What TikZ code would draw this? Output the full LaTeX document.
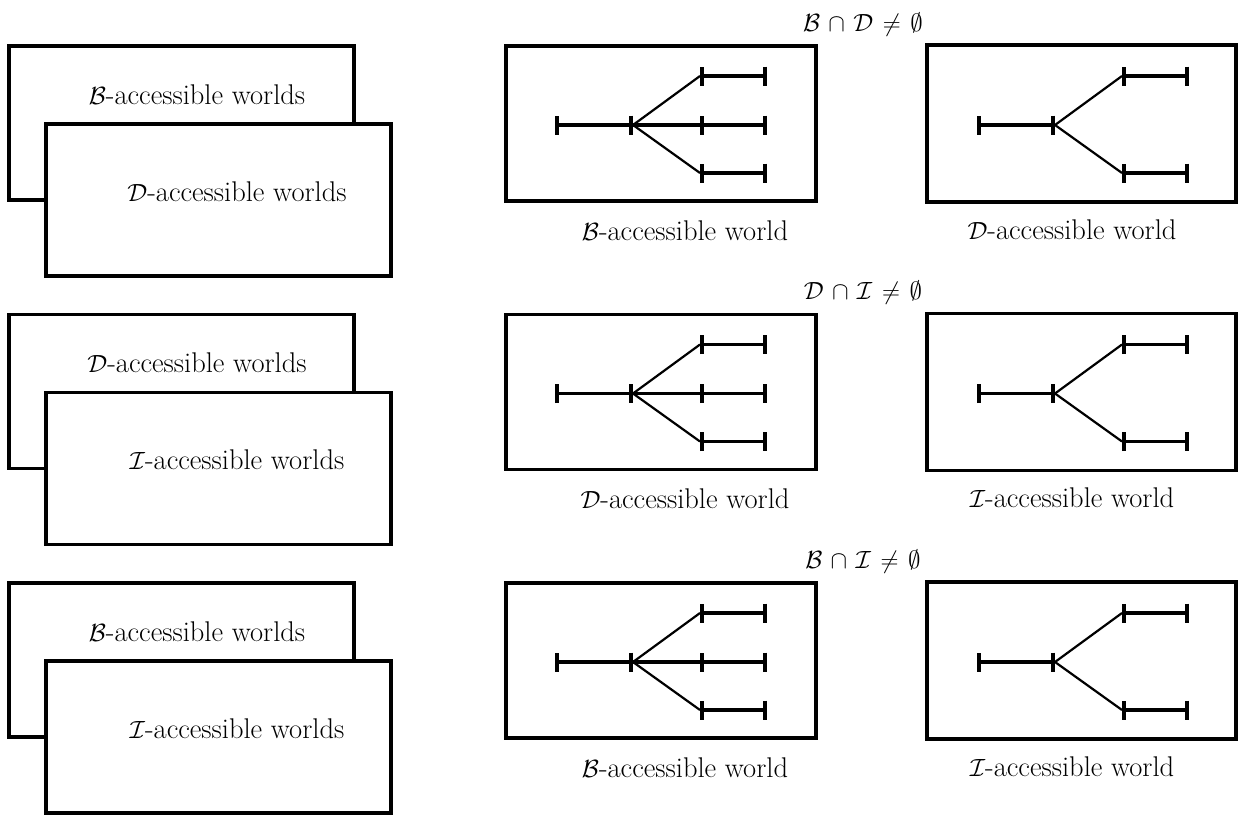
\documentclass[tikz,border=0pt]{standalone}
\usetikzlibrary{arrows.meta}
\begin{document}
\begin{tikzpicture}[x=1pt, y=-1pt,
    frame/.style={draw, line width=3.3pt, fill=white, inner sep=0pt},
    txt/.style={font=\fontsize{28.5}{34}\selectfont, anchor=base, inner sep=0pt},
    stem/.style={line width=3.8pt, {Bar[width=19pt]}-{Bar[width=19pt]}}]
  \useasboundingbox (0,0) rectangle (1242,819);
  \foreach \r/\p/\q in {0/B/D, 1/D/I, 2/B/I} {
    \pgfmathsetmacro{\dy}{268.5*\r}
    \begin{scope}[yshift=-\dy pt]
      % stacked boxes
      \node[frame, minimum width=345pt, minimum height=154pt] (back) at (181.5,123) {};
      \node[txt] (backlbl) at (197,104) {$\mathcal{\p}$-accessible worlds};
      \node[frame, minimum width=345pt, minimum height=152pt] (front) at (218.5,200) {};
      \node[txt] (frontlbl) at (237,201) {$\mathcal{\q}$-accessible worlds};
      % worlds
      \node[frame, minimum width=310pt, minimum height=155pt] (wleft) at (661,123.5) {};
      \node[frame, minimum width=309pt, minimum height=157pt] (wright) at (1081.5,123.5) {};
      \node[txt] (lleft) at (685,240) {$\mathcal{\p}$-accessible world};
      \node[txt] (lright) at (1072,239) {$\mathcal{\q}$-accessible world};
      \node[txt, font=\fontsize{30.5}{36}\selectfont] (meet) at (863,31)
        {$\medmuskip=6mu \thickmuskip=7mu \mathcal{\p}\cap\mathcal{\q}\neq\emptyset$};
      % trees
      \foreach \xs/\ys in {0/{76/2.2,125/3.8,173/2.2}, 422/{76/2.2,173/2.2}} {
        \begin{scope}[xshift=\xs pt]
          \coordinate (root) at (555,125);
          \coordinate (fork) at (633,125);
          \draw[stem] (root) -- (fork);
          \foreach \yy/\w in \ys {
            \coordinate (bud) at (700,\yy);
            \coordinate (tip) at (767,\yy);
            \draw[line width=\w pt] (fork) -- (bud);
            \draw[stem] (bud) -- (tip);
          }
        \end{scope}
      }
    \end{scope}
  }
\end{tikzpicture}
\end{document}
